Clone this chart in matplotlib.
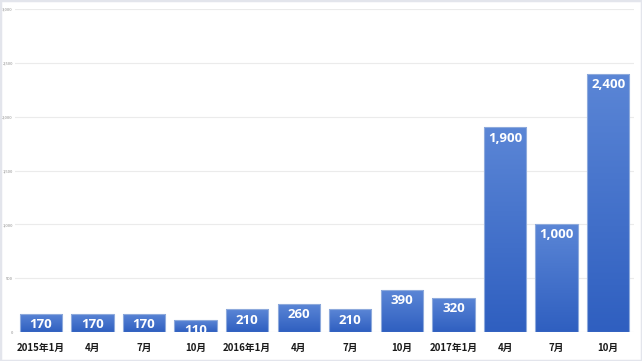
import matplotlib
matplotlib.use("Agg")
import matplotlib.pyplot as plt
import numpy as np
from matplotlib.colors import LinearSegmentedColormap
from matplotlib.patches import Rectangle

plt.rcParams['font.family'] = ['Noto Sans CJK JP', 'DejaVu Sans']

categories = ['2015年1月', '4月', '7月', '10月', '2016年1月', '4月', '7月', '10月',
              '2017年1月', '4月', '7月', '10月']
values = [170, 170, 170, 110, 210, 260, 210, 390, 320, 1900, 1000, 2400]
yticks = [0, 500, 1000, 1500, 2000, 2500, 3000]

fig = plt.figure(figsize=(6.42, 3.61), dpi=100)
ax = fig.add_axes([15/642, 1-332/361, 619/642, 323/361])

x = np.arange(len(categories))
bars = ax.bar(x, values, width=0.82, color='none', edgecolor='#8eaadc', linewidth=0.8, zorder=3)

# vertical gradient inside each bar
cmap = LinearSegmentedColormap.from_list('g', ['#2f5fc0', '#5b86d6'])
grad = np.linspace(0, 1, 256).reshape(-1, 1)
for b in bars:
    bx, by = b.get_xy()
    w, h = b.get_width(), b.get_height()
    im = ax.imshow(grad, cmap=cmap, origin='lower', aspect='auto',
                   extent=[bx, bx + w, by, by + h], zorder=2)
    im.set_clip_path(b)

for xi, v in zip(x, values):
    ax.annotate(f'{v:,}', (xi, v), xytext=(0, -3), textcoords='offset points',
                ha='center', va='top', color='white', fontsize=9.5, fontweight='bold',
                family=['Open Sans', 'DejaVu Sans'], zorder=4)

ax.set_xlim(-0.5, len(categories) - 0.5)
ax.set_ylim(0, 3000)
ax.set_yticks(yticks)
ax.set_yticklabels([f'{t:,}' for t in yticks], fontsize=3, color='#8c8c8c')
ax.set_xticks(x)
ax.set_xticklabels(categories, fontsize=7, fontweight='bold', color='#1a1a1a')
ax.tick_params(axis='x', length=0, pad=8)
ax.tick_params(axis='y', length=0, pad=1.5)
ax.grid(axis='y', color='#ebebeb', linewidth=0.8, zorder=0)
for s in ax.spines.values():
    s.set_visible(False)

fig.patches.append(Rectangle((0, 0), 1, 1, transform=fig.transFigure, fill=False,
                             edgecolor='#e3e5ec', linewidth=2.5))

fig.savefig('out.png', dpi=100)
